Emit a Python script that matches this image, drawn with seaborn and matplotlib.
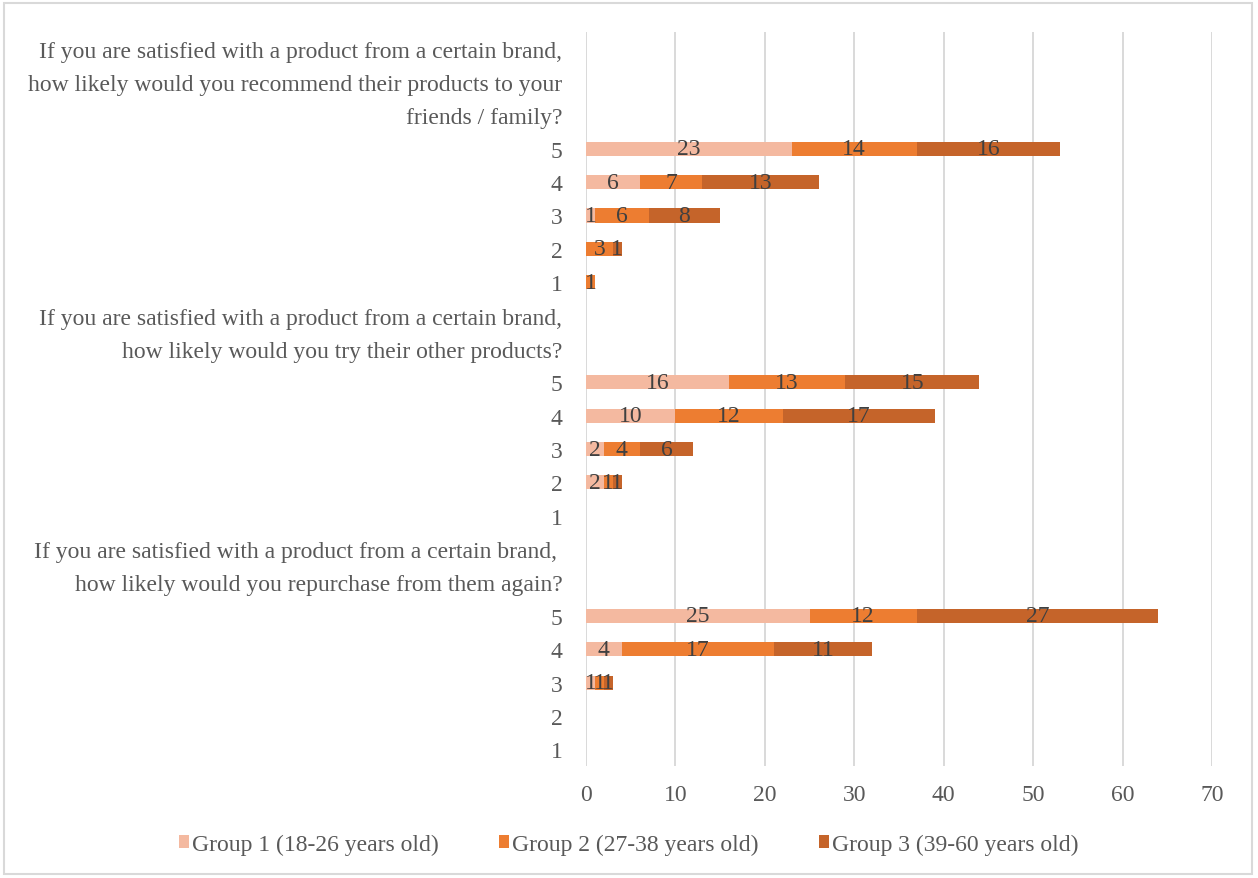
import numpy as np
import pandas as pd
import matplotlib
matplotlib.use("Agg")
import matplotlib.pyplot as plt
from matplotlib.patches import Patch, Rectangle
import seaborn as sns

# Survey questions (each split into the lines shown on the category axis)
question_lines = [
    ["If you are satisfied with a product from a certain brand,",
     "how likely would you recommend their products to your",
     "friends / family?"],
    ["If you are satisfied with a product from a certain brand,",
     "how likely would you try their other products?"],
    ["If you are satisfied with a product from a certain brand, ",
     "how likely would you repurchase from them again?"],
]
ratings = ["5", "4", "3", "2", "1"]

group_names = ["Group 1 (18-26 years old)",
               "Group 2 (27-38 years old)",
               "Group 3 (39-60 years old)"]
group_colors = ["#F4B9A0", "#ED7D31", "#C5642A"]

# Counts per rating (5..1) for each question; None = no response
recommend_g1 = [23, 6, 1, None, None]
recommend_g2 = [14, 7, 6, 3, 1]
recommend_g3 = [16, 13, 8, 1, None]

try_other_g1 = [16, 10, 2, 2, None]
try_other_g2 = [13, 12, 4, 1, None]
try_other_g3 = [15, 17, 6, 1, None]

repurchase_g1 = [25, 4, 1, None, None]
repurchase_g2 = [12, 17, 1, None, None]
repurchase_g3 = [27, 11, 1, None, None]

question_values = [
    (recommend_g1, recommend_g2, recommend_g3),
    (try_other_g1, try_other_g2, try_other_g3),
    (repurchase_g1, repurchase_g2, repurchase_g3),
]

# Build one row per line of the category axis
rows = []
for qi, (lines, vals) in enumerate(zip(question_lines, question_values)):
    for li, line in enumerate(lines):
        rows.append(dict(key=f"q{qi}_t{li}", label=line, g1=np.nan, g2=np.nan, g3=np.nan))
    for ri, r in enumerate(ratings):
        rows.append(dict(key=f"q{qi}_r{r}", label=r,
                         g1=vals[0][ri], g2=vals[1][ri], g3=vals[2][ri]))
df = pd.DataFrame(rows)
for c in ["g1", "g2", "g3"]:
    df[c] = pd.to_numeric(df[c])
filled = df[["g1", "g2", "g3"]].fillna(0)
df["c1"] = filled["g1"]
df["c2"] = filled["g1"] + filled["g2"]
df["c3"] = filled["g1"] + filled["g2"] + filled["g3"]

sns.set_theme(style="white")
plt.rcParams["font.family"] = ["Liberation Serif", "DejaVu Serif"]

FS = 17
fig = plt.figure(figsize=(12.58, 8.79), dpi=100)
ax = fig.add_axes([586 / 1258, 1 - 767 / 879, (1212 - 586) / 1258, (767 - 33) / 879])

order = list(df["key"])
bar_w = 0.42
# Stacked bars: draw cumulative totals back to front
for col, color in zip(["c3", "c2", "c1"], group_colors[::-1]):
    sns.barplot(data=df, y="key", x=col, order=order, orient="h", color=color,
                width=bar_w, linewidth=0, saturation=1, ax=ax)

# Value labels centred in each segment
for i, row in df.iterrows():
    left = 0.0
    for c in ["g1", "g2", "g3"]:
        v = row[c]
        if pd.notna(v) and v > 0:
            ax.text(left + v / 2, i, f"{int(v)}", ha="center", va="center",
                    fontsize=FS, color="#404040")
            left += v

ax.set_xlim(0, 70)
ax.set_xticks(range(0, 71, 10))
ax.set_ylim(len(order) - 0.5, -0.5)
ax.set_yticks(range(len(order)))
ax.set_yticklabels(df["label"])
ax.set_xlabel("")
ax.set_ylabel("")
ax.xaxis.grid(True, color="#D9D9D9", linewidth=1.4)
ax.set_axisbelow(True)
for s in ax.spines.values():
    s.set_visible(False)
ax.tick_params(axis="y", length=0, pad=17, labelsize=FS, labelcolor="#595959")
ax.tick_params(axis="x", length=0, pad=13, labelsize=FS, labelcolor="#595959")

handles = [Patch(facecolor=c, edgecolor="none", label=n) for c, n in zip(group_colors, group_names)]
fig.legend(handles=handles, loc="center", bbox_to_anchor=(0.5, 1 - 845 / 879), ncol=3,
           frameon=False, fontsize=FS, handlelength=0.4, handleheight=0.45,
           handletextpad=0.15, columnspacing=2.55, labelcolor="#595959")

# Thin border around the chart area
fig.patches.append(Rectangle((4 / 1258, 4 / 879), 1248 / 1258, 871 / 879,
                             transform=fig.transFigure, fill=False,
                             edgecolor="#D9D9D9", linewidth=1.5))

fig.savefig("out.png", dpi=100, facecolor="white")
